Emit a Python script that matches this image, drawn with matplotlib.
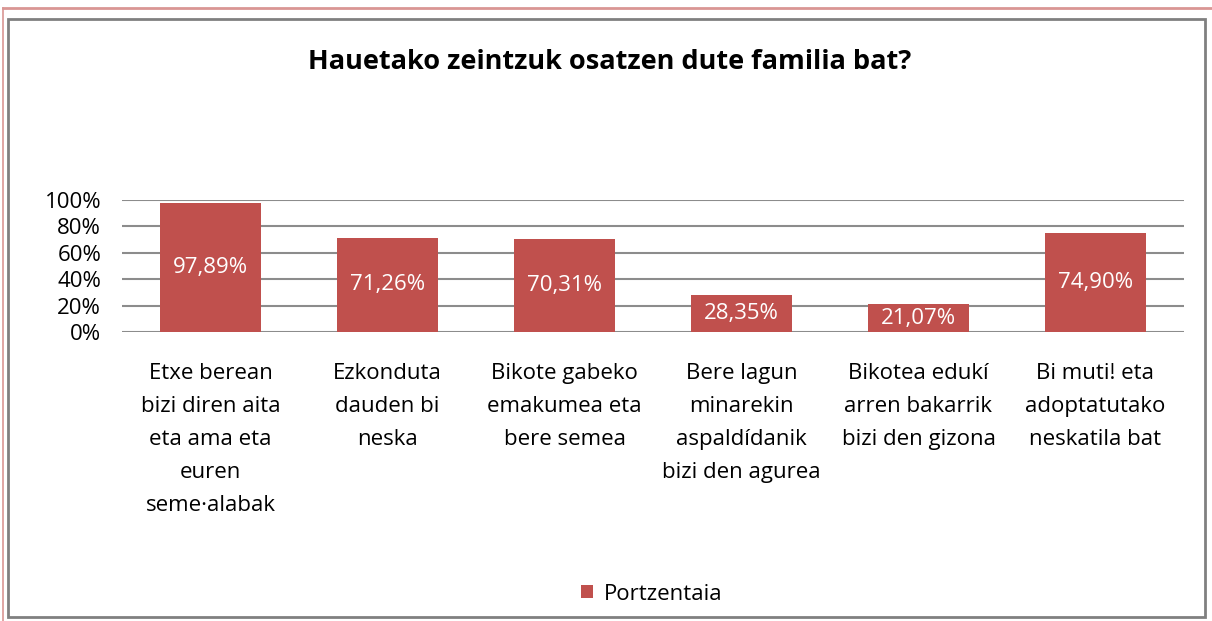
import matplotlib.pyplot as plt
from matplotlib.patches import Rectangle
from matplotlib.lines import Line2D

categories = [
    "Etxe berean\nbizi diren aita\neta ama eta\neuren\nseme\u00b7alabak",
    "Ezkonduta\ndauden bi\nneska",
    "Bikote gabeko\nemakumea eta\nbere semea",
    "Bere lagun\nminarekin\naspald\u00eddanik\nbizi den agurea",
    "Bikotea eduk\u00ed\narren bakarrik\nbizi den gizona",
    "Bi muti! eta\nadoptatutako\nneskatila bat",
]
values = [97.89, 71.26, 70.31, 28.35, 21.07, 74.90]
value_labels = ["97,89%", "71,26%", "70,31%", "28,35%", "21,07%", "74,90%"]
yticks = [0, 20, 40, 60, 80, 100]

plt.rcParams['font.family'] = ['Open Sans', 'DejaVu Sans']
bar_color = "#C0504D"
fs = 16

W, H = 1212, 621
fig = plt.figure(figsize=(W / 100, H / 100), dpi=100)

# outer frames
fig.add_artist(Line2D([3 / W, 1], [1 - 8 / H, 1 - 8 / H], transform=fig.transFigure,
                      color="#D99694", lw=2))
fig.add_artist(Line2D([3 / W, 3 / W], [0, 1 - 8 / H], transform=fig.transFigure,
                      color="#D99694", lw=1.2))
fig.add_artist(Rectangle((8 / W, 4 / H), 1197 / W, (617 - 19) / H, transform=fig.transFigure,
                         fill=False, edgecolor="#808080", lw=2))

ax = fig.add_axes([122 / W, 1 - 332 / H, (1184 - 122) / W, (332 - 200) / H])
x = range(len(values))
bars = ax.bar(x, values, width=0.565, color=bar_color, zorder=3, label="Portzentaia")
for b, v, lab in zip(bars, values, value_labels):
    ax.text(b.get_x() + b.get_width() / 2, v / 2, lab, ha="center", va="center",
            color="white", fontsize=fs, zorder=4)

ax.set_xlim(-0.5, len(values) - 0.5)
ax.set_ylim(0, 100)
ax.set_yticks(yticks)
ax.set_yticklabels([f"{t}%" for t in yticks], fontsize=fs, va="center_baseline")
ax.set_xticks(list(x))
ax.set_xticklabels(categories, fontsize=fs, linespacing=1.75, va="top")
ax.tick_params(axis="both", length=0)
ax.tick_params(axis="x", pad=22)
ax.tick_params(axis="y", pad=15)
ax.grid(axis="y", color="#8C8C8C", lw=1.5, zorder=0)
for s in ax.spines.values():
    s.set_visible(False)

fig.text(610 / W, 1 - 62 / H, "Hauetako zeintzuk osatzen dute familia bat?",
         ha="center", va="center", fontsize=19.5, fontweight="bold")

fig.legend(handles=[bars], labels=["Portzentaia"], loc="center",
           bbox_to_anchor=(652 / W, 1 - 594 / H), frameon=False, fontsize=fs,
           handlelength=0.55, handleheight=0.55, handletextpad=0.5)

fig.savefig("out.png", dpi=100)
